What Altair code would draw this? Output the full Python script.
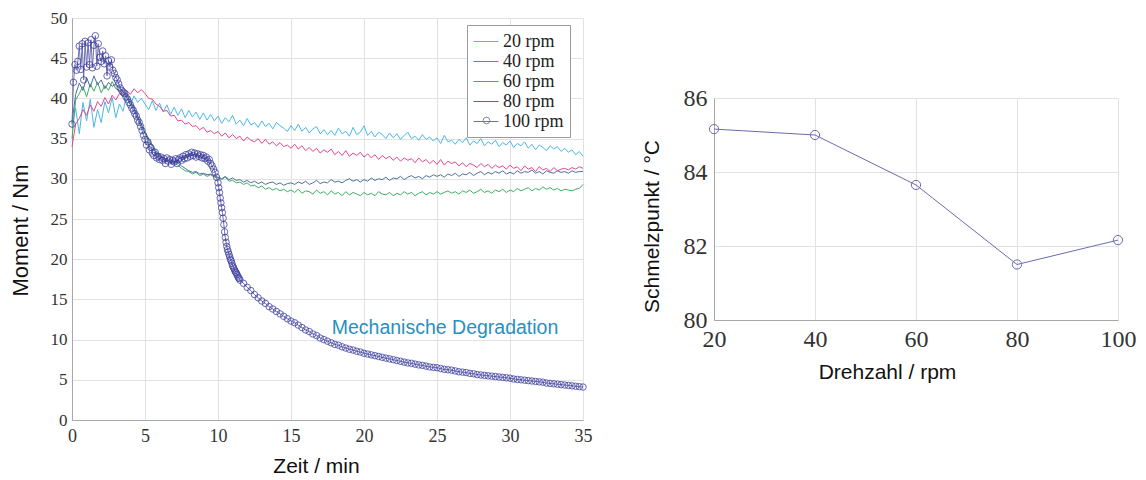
import altair as alt
import pandas as pd

SERIES = ["20 rpm", "40 rpm", "60 rpm", "80 rpm", "100 rpm"]
COLORS = ["#4cb8e6", "#e2478f", "#3fae62", "#4d6f9e", "#6f6fb0"]

# sample times (min) for 20/40/60/80 rpm, every 0.25 min
T_QUARTER = [i * 0.25 for i in range(141)]

RPM20 = [36.5, 38.8, 35.6, 39.5, 37.2, 39.9, 36.4, 38.6, 37.0, 39.6, 38.2, 40.1, 37.6, 39.3, 38.4, 40.6, 39.2, 40.3, 39.5, 40.0,
         39.3, 38.6, 39.7, 38.5, 39.4, 38.3, 39.2, 38.0, 38.9, 37.9, 38.7, 37.6, 38.5, 37.7, 38.3, 37.4, 38.2, 37.3, 38.0, 37.2,
         37.8, 36.9, 37.6, 37.1, 37.9, 36.8, 37.3, 36.6, 37.5, 36.7, 37.0, 36.4, 37.2, 36.5, 36.9, 36.2, 37.0, 36.6, 36.3, 35.9,
         36.6, 36.0, 36.8, 35.9, 36.4, 35.7, 36.2, 36.5, 35.6, 36.1, 35.5, 36.0, 35.4, 36.3, 35.6, 35.9, 35.3, 36.4, 35.5, 35.8,
         36.6, 35.4, 35.9, 35.2, 35.8, 35.5, 35.0, 35.7, 35.1, 35.6, 34.9, 35.4, 35.8, 35.0, 35.3, 34.8, 35.5, 34.9, 35.2, 34.7,
         35.1, 34.4, 35.4, 34.6, 34.8, 34.3, 34.9, 34.5, 35.1, 34.2, 34.7, 34.4, 35.0, 34.1, 34.6, 34.3, 34.8, 34.0, 34.5, 34.2,
         34.7, 33.9, 34.4, 34.1, 34.6, 33.8, 34.3, 33.6, 34.2, 33.9, 33.5, 34.1, 33.7, 34.0, 33.4, 33.8, 33.3, 33.6, 33.0, 33.4,
         32.8]

RPM40 = [34.0, 36.8, 37.5, 38.6, 37.9, 39.2, 38.4, 39.6, 39.0, 40.1, 39.3, 40.4, 39.8, 40.6, 40.2, 41.0, 40.5, 41.2, 40.7, 41.1,
         40.6, 40.0, 39.9, 39.3, 39.0, 38.4, 38.5, 37.8, 37.9, 37.2, 37.3, 36.8, 37.0, 36.5, 36.6, 36.1, 36.4, 35.8, 36.0, 35.6,
         35.9, 35.3, 35.7, 35.1, 35.5, 35.0, 35.3, 34.7, 35.2, 34.8, 34.6, 35.0, 34.4, 34.9, 34.3, 34.6, 34.1, 34.5, 34.0, 34.2,
         33.8, 34.3, 33.7, 34.1, 33.5, 33.9, 33.4, 33.8, 33.2, 33.6, 33.3, 33.7, 33.0, 33.4, 32.9, 33.5, 32.8, 33.2, 32.9, 33.3,
         32.7, 33.1, 32.6, 33.0, 32.4, 32.9, 32.5, 32.8, 32.3, 32.7, 32.2, 32.6, 32.3, 32.5, 32.0, 32.6, 32.1, 32.4, 31.9, 32.3,
         31.8, 32.4, 31.7, 32.2, 31.9, 32.1, 31.6, 32.0, 31.5, 31.9, 31.7, 31.4, 31.9, 31.5, 31.8, 31.3, 31.7, 31.4, 31.6, 31.2,
         31.7, 31.3, 31.5, 31.0, 31.6, 31.2, 31.4, 30.9, 31.5, 31.1, 31.3, 30.9, 31.4, 31.0, 31.2, 31.3, 31.1, 31.4, 31.2, 31.5,
         31.3]

RPM60 = [35.0, 39.8, 40.6, 41.5, 40.2, 41.8, 40.9, 42.0, 40.7, 41.6, 41.0, 42.1, 41.2, 41.0, 40.6, 40.1, 39.3, 38.6, 37.6, 36.6,
         35.6, 34.7, 34.0, 33.3, 32.9, 32.6, 32.3, 32.1, 32.0, 31.7, 31.3, 31.0, 30.9, 30.6, 30.8, 30.4, 30.6, 30.3, 30.5, 30.2,
         30.1, 29.9, 30.2, 29.7, 29.8, 29.5, 29.6, 29.3, 29.5, 29.1, 29.2, 28.9, 29.1, 28.7, 28.9, 28.6, 28.8, 28.5, 28.7, 28.4,
         28.6, 28.3, 28.7, 28.2, 28.5, 28.4, 28.1, 28.6, 28.2, 28.4, 28.0, 28.5, 28.1, 28.3, 27.9, 28.4, 28.0, 28.3, 28.1, 27.9,
         28.3, 28.0, 28.2, 27.9, 28.4, 28.1, 28.0, 28.3, 27.9, 28.2, 28.0, 28.4, 28.1, 28.3, 27.9, 28.2, 28.4, 28.0, 28.3, 28.1,
         28.4, 28.1, 28.3, 28.5, 28.2, 28.4, 28.1, 28.5, 28.3, 28.6, 28.2, 28.4, 28.7, 28.3, 28.5, 28.2, 28.6, 28.4, 28.7, 28.3,
         28.6, 28.4, 28.8, 28.5, 28.7, 28.9, 28.5, 28.8, 28.6, 29.0, 28.7, 28.9, 28.6, 28.8, 28.5, 28.7, 28.6, 28.5, 28.7, 28.8,
         29.3]

RPM80 = [37.0, 40.5, 41.9, 41.0, 42.6, 41.4, 42.8, 41.7, 42.3, 41.2, 42.0, 41.5, 41.8, 41.3, 40.9, 40.4, 39.6, 38.8, 37.8, 36.8,
         35.8, 35.0, 34.2, 33.5, 33.0, 32.6, 32.4, 32.3, 32.1, 32.0, 31.6, 31.3, 31.0, 30.8, 30.9, 30.6, 30.7, 30.5, 30.6, 30.3,
         30.2, 30.0, 30.3, 29.9, 30.1, 29.8, 29.9, 29.6, 29.8, 29.5, 29.7, 29.4, 29.6, 29.3, 29.5, 29.6, 29.3, 29.5, 29.2, 29.4,
         29.5, 29.3, 29.6, 29.4, 29.7, 29.3, 29.5, 29.8, 29.4, 29.6, 29.5, 29.9, 29.6, 29.7, 29.5, 29.8, 30.0, 29.7, 29.9, 29.6,
         29.9, 29.7, 30.1, 29.8, 30.0, 29.9, 30.2, 29.8, 30.1, 30.0, 30.3, 29.9, 30.2, 30.4, 30.1, 30.3, 30.0, 30.4, 30.2, 30.5,
         30.3, 30.5, 30.2, 30.6, 30.4, 30.7, 30.3, 30.6, 30.5, 30.8, 30.4, 30.7, 30.9, 30.5, 30.8, 30.6, 30.9, 30.7, 31.0, 30.6,
         30.8, 30.6, 31.0, 30.7, 30.9, 30.8, 31.1, 30.7, 30.9, 30.6, 31.0, 30.8, 30.7, 31.0, 30.8, 30.9, 30.7, 31.0, 30.8, 30.9,
         30.9]

# 100 rpm: 0-10 min every 0.1, 10.05-11.5 every 0.05, 11.75-35 every 0.25
T100 = ([i / 10 for i in range(101)]
        + [round(10 + 0.05 * i, 2) for i in range(1, 31)]
        + [11.5 + 0.25 * i for i in range(1, 95)])
RPM100 = [36.8, 42.0, 44.2, 43.5, 44.6, 46.5, 43.6, 46.8, 42.3, 47.1,
          43.9, 46.9, 44.2, 47.3, 43.8, 46.6, 47.8, 44.0, 46.8, 45.1,
          44.6, 45.9, 44.3, 45.3, 42.8, 44.7, 43.9, 44.8, 43.5, 43.1,
          42.6, 42.3, 41.8, 41.3, 41.0, 40.8, 40.6, 40.2, 39.9, 39.5,
          39.2, 38.8, 38.5, 38.1, 37.8, 37.3, 37.0, 36.5, 36.0, 35.4,
          34.9, 34.2, 34.6, 33.6, 33.9, 33.2, 32.9, 33.3, 32.6, 32.8,
          32.4, 32.7, 32.3, 32.5, 31.9, 32.6, 32.2, 32.4, 31.8, 32.3,
          32.1, 32.5, 31.9, 32.4, 32.6, 32.3, 32.8, 32.5, 33.0, 32.6,
          33.1, 32.8, 33.3, 32.9, 33.2, 32.7, 33.1, 32.8, 33.0, 32.6,
          32.9, 32.5, 32.7, 32.2, 32.4, 31.9, 31.6, 31.2, 30.8, 30.2,
          29.5,
          28.9, 28.3, 27.6, 27.0, 26.4, 25.8, 25.1, 24.3, 23.4, 22.7,
          22.1, 21.6, 21.2, 20.9, 20.6, 20.3, 20.0, 19.8, 19.5, 19.2,
          19.0, 18.8, 18.6, 18.4, 18.3, 18.1, 17.9, 17.7, 17.6, 17.4,
          17.0,
          16.5, 16.1, 15.6, 15.2, 14.8, 14.5, 14.1, 13.8,
          13.5, 13.2, 12.9, 12.6, 12.3, 12.1, 11.8, 11.5,
          11.2, 11.0, 10.7, 10.5, 10.2, 10.0, 9.8, 9.6,
          9.4, 9.3, 9.1, 8.95, 8.8, 8.7, 8.55, 8.45,
          8.3, 8.2, 8.1, 8.0, 7.9, 7.8, 7.7, 7.6,
          7.5, 7.4, 7.3, 7.2, 7.1, 7.05, 6.95, 6.85,
          6.8, 6.7, 6.6, 6.55, 6.5, 6.4, 6.3, 6.25,
          6.2, 6.1, 6.0, 5.95, 5.9, 5.8, 5.75, 5.65,
          5.6, 5.55, 5.5, 5.45, 5.4, 5.35, 5.3, 5.25,
          5.2, 5.1, 5.05, 5.0, 4.95, 4.9, 4.85, 4.8,
          4.75, 4.7, 4.6, 4.55, 4.5, 4.45, 4.4, 4.35,
          4.3, 4.25, 4.2, 4.15, 4.1]

DREHZAHL = [20, 40, 60, 80, 100]
SCHMELZPUNKT = [85.16, 85.0, 83.65, 81.5, 82.16]

ANNOT_TEXT = ["Mechanische Degradation"]
ANNOT_T = [25.55]
ANNOT_M = [11.45]

# ---------- tables ----------
rows = []
for name, vals in zip(SERIES[:4], [RPM20, RPM40, RPM60, RPM80]):
    for t, v in zip(T_QUARTER, vals):
        rows.append({"t": t, "m": v, "series": name})
df_lines = pd.DataFrame(rows)
df100 = pd.DataFrame({"t": T100, "m": RPM100, "series": "100 rpm", "marker": "100 rpm"})
df_all = pd.concat([df_lines, df100[["t", "m", "series"]]], ignore_index=True)
df_annot = pd.DataFrame({"t": ANNOT_T, "m": ANNOT_M, "label": ANNOT_TEXT})
df_r = pd.DataFrame({"rpm": DREHZAHL, "tm": SCHMELZPUNKT})

SERIF = "Liberation Serif"
SANS = "Liberation Sans"

x_left = alt.X("t:Q", scale=alt.Scale(domain=[0, 35], nice=False),
               axis=alt.Axis(values=[0, 5, 10, 15, 20, 25, 30, 35], title="Zeit / min",
                             labelFontSize=18, labelPadding=7, labelFlush=False,
                             titleFontSize=21, titlePadding=10, titleX=244))
y_left = alt.Y("m:Q", scale=alt.Scale(domain=[0, 50], nice=False),
               axis=alt.Axis(values=list(range(0, 51, 5)), title="Moment / Nm",
                             labelFontSize=17, labelPadding=5, labelFlush=False,
                             titleFontSize=22, titlePadding=18, titleY=212))

color = alt.Color("series:N", scale=alt.Scale(domain=SERIES, range=COLORS),
                  legend=alt.Legend(orient="none", legendX=395, legendY=7, title=None,
                                    symbolType="M-1,0H1.5", symbolSize=400, symbolStrokeWidth=1,
                                    labelFont=SERIF, labelFontSize=18, labelColor="#222222",
                                    labelOffset=9, strokeColor="#9a9a9a", fillColor="white",
                                    padding=6, rowPadding=0))

lines = alt.Chart(df_all).mark_line(strokeWidth=1).encode(
    x=x_left, y=y_left, color=color, order="t:Q")

pts = alt.Chart(df100).mark_point(filled=False, size=42, strokeWidth=0.9, color="#3b3b9e", opacity=0.85).encode(
    x="t:Q", y="m:Q",
    shape=alt.Shape("marker:N", scale=alt.Scale(domain=["100 rpm"], range=["circle"]),
                    legend=alt.Legend(orient="none", legendX=406, legendY=94, title=None,
                                      symbolStrokeColor="#6f6fb0", symbolFillColor="white",
                                      symbolSize=45, symbolStrokeWidth=1,
                                      labelExpr="''", labelFontSize=17, padding=0)))

annot = alt.Chart(df_annot).mark_text(font=SANS, fontSize=19.5, color="#2a8fbf").encode(
    x="t:Q", y="m:Q", text="label:N")

left = alt.layer(lines, pts, annot).properties(width=511, height=402)

spacer = alt.Chart(df_r).mark_point(opacity=0).encode(
    x=alt.X("rpm:Q", axis=None), y=alt.Y("tm:Q", axis=None)
).properties(width=404, height=68)

right = alt.Chart(df_r).mark_line(
    color="#6b6bb0", strokeWidth=1,
    point=alt.OverlayMarkDef(filled=False, size=85, color="#6b6bb0", strokeWidth=1)
).encode(
    x=alt.X("rpm:Q", scale=alt.Scale(domain=[20, 100], nice=False),
            axis=alt.Axis(values=DREHZAHL, title="Drehzahl / rpm", labelFontSize=24,
                          labelPadding=7, titleFontSize=21, titlePadding=10, labelFlush=False,
                          titleX=173)),
    y=alt.Y("tm:Q", scale=alt.Scale(domain=[80, 86], nice=False),
            axis=alt.Axis(values=[80, 82, 84, 86], title="Schmelzpunkt / °C", labelFontSize=24,
                          labelPadding=7, titleFontSize=21, titlePadding=21, labelFlush=False,
                          titleY=128)),
).properties(width=404, height=222)

right_col = alt.vconcat(spacer, right, spacing=0).resolve_scale(x="independent", y="independent")

chart = alt.hconcat(left, right_col, spacing=49).properties(
    padding={"left": 9, "top": 9, "right": 0, "bottom": 0}
).configure_view(stroke=None).configure_axis(
    gridColor="#e2e2e2", domainColor="#a8a8a8", ticks=False,
    labelFont=SERIF, labelFontSize=17, labelColor="#333333",
    titleFont=SANS, titleFontSize=17, titleFontWeight="normal", titleColor="#111111"
)

chart.save("out.html", embed_options={"renderer": "svg", "actions": False})
